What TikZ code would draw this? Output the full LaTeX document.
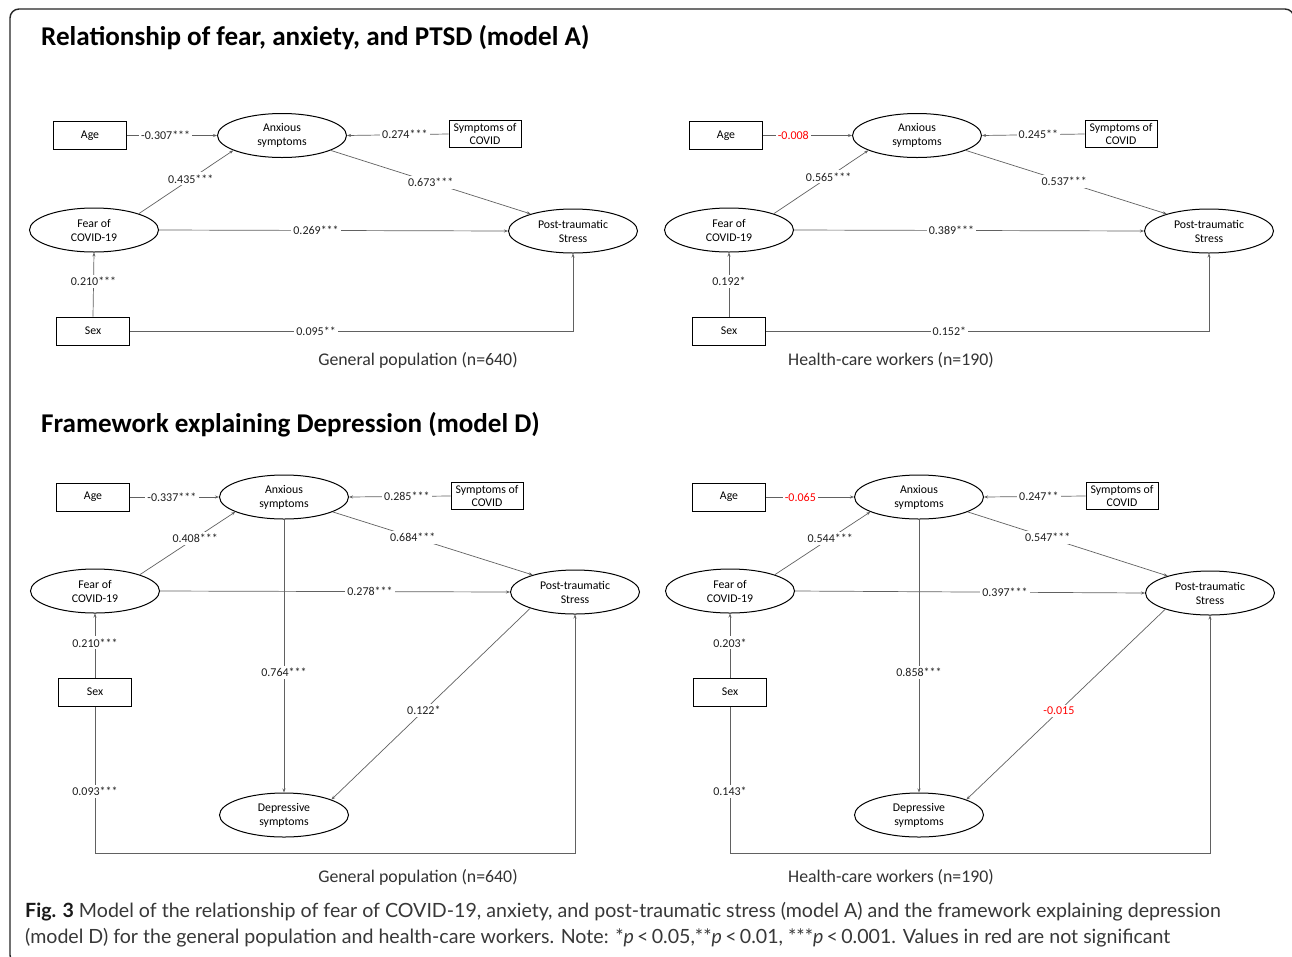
\documentclass[tikz,border=0pt]{standalone}
\usepackage{fontspec}
\setmainfont{Carlito}
\newfontfamily\capfont{Lato}
\usetikzlibrary{shapes.geometric,arrows.meta}
\begin{document}
\begin{tikzpicture}[x=1pt,y=-1pt,
  box/.style={draw=black, line width=1pt, minimum width=73pt, minimum height=28pt, inner sep=0pt, align=center, font=\fontsize{11.8}{13.5}\selectfont},
  sbox/.style={box, minimum width=72pt, minimum height=27pt},
  oval/.style={ellipse, draw=black, line width=1pt, minimum width=129pt, minimum height=44pt, inner sep=0pt, align=center, font=\fontsize{11.8}{14}\selectfont},
  conn/.style={draw=black!62, line width=0.7pt, -{Stealth[length=4pt,width=3pt]}},
  lbl/.style={fill=white, inner sep=2.2pt, font=\fontsize{12}{13}\selectfont, text=black!88},
  ns/.style={text=red},
  title/.style={anchor=base west, inner sep=0pt, font=\fontsize{27.1}{30}\selectfont\bfseries},
  sub/.style={anchor=base, font=\fontsize{17.8}{20}\selectfont, text=black!80},
  capt/.style={anchor=base west, font=\capfont\fontsize{19.6}{26}\selectfont, text=black!78, inner sep=0pt},
]
\useasboundingbox (0,0) rectangle (1292,956);
\fill[white] (0,0) rectangle (1292,956);
\draw[line width=1.4pt, black!85, rounded corners=9pt] (10,9) rectangle (1294,964);

% titles
\node[title] (tA) at (41,45) {Relationship of fear, anxiety, and PTSD (model A)};
\node[title] (tD) at (41,432) {Framework explaining Depression (model D)};

% ===== Model A, general population =====
\node[box] (a1age) at (90,135.5) {Age};
\node[oval] (a1anx) at (282,135.5) {Anxious\\symptoms};
\node[sbox] (a1sym) at (485,134) {Symptoms of\\COVID};
\node[oval] (a1fear) at (94,230) {Fear of\\COVID-19};
\node[oval] (a1pts) at (573,231) {Post-traumatic\\Stress};
\node[box] (a1sex) at (93,331) {Sex};
\draw[conn] (a1age.east) -- node[lbl,pos=0.43] {-0.307***} (a1anx.west);
\draw[conn] (a1sym.west) -- node[lbl,pos=0.43] {0.274***} (a1anx.east);
\draw[conn] (a1fear.20) -- node[lbl,pos=0.55] {0.435***} (a1anx.197);
\draw[conn] (a1anx.343) -- node[lbl,pos=0.5] {0.673***} (a1pts.158);
\draw[conn] (a1fear.east) -- node[lbl,pos=0.45] {0.269***} (a1pts.west);
\draw[conn] (a1sex.north) -- node[lbl,pos=0.55] {0.210***} (a1fear.south);
\draw[conn] (a1sex.east) -| node[lbl,pos=0.21] {0.095**} (a1pts.south);
\node[sub] (a1cap) at (418,365) {General population (n=640)};

% ===== Model A, health-care workers =====
\node[box] (a2age) at (726,135.5) {Age};
\node[oval] (a2anx) at (917,135.5) {Anxious\\symptoms};
\node[sbox] (a2sym) at (1121,134) {Symptoms of\\COVID};
\node[oval] (a2fear) at (729,230) {Fear of\\COVID-19};
\node[oval] (a2pts) at (1209,231) {Post-traumatic\\Stress};
\node[box] (a2sex) at (729,331) {Sex};
\draw[conn] (a2age.east) -- node[lbl,ns,pos=0.34] {-0.008} (a2anx.west);
\draw[conn] (a2sym.west) -- node[lbl,pos=0.45] {0.245**} (a2anx.east);
\draw[conn] (a2fear.20) -- node[lbl,pos=0.58] {0.565***} (a2anx.197);
\draw[conn] (a2anx.343) -- node[lbl,pos=0.49] {0.537***} (a2pts.158);
\draw[conn] (a2fear.east) -- node[lbl,pos=0.45] {0.389***} (a2pts.west);
\draw[conn] (a2sex.north) -- node[lbl,pos=0.55] {0.192*} (a2fear.south);
\draw[conn] (a2sex.east) -| node[lbl,pos=0.207] {0.152*} (a2pts.south);
\node[sub] (a2cap) at (891,365) {Health-care workers (n=190)};

% ===== Model D, general population =====
\coordinate (dbot) at (0,853);
\node[box] (d1age) at (93,497) {Age};
\node[oval] (d1anx) at (284,497) {Anxious\\symptoms};
\node[sbox] (d1sym) at (487,496) {Symptoms of\\COVID};
\node[oval] (d1fear) at (95,591) {Fear of\\COVID-19};
\node[oval] (d1pts) at (575,592) {Post-traumatic\\Stress};
\node[box] (d1sex) at (95,692) {Sex};
\node[oval] (d1dep) at (284,815) {Depressive\\symptoms};
\draw[conn] (d1age.east) -- node[lbl,pos=0.47] {-0.337***} (d1anx.west);
\draw[conn] (d1sym.west) -- node[lbl,pos=0.43] {0.285***} (d1anx.east);
\draw[conn] (d1fear.20) -- node[lbl,pos=0.58] {0.408***} (d1anx.197);
\draw[conn] (d1anx.343) -- node[lbl,pos=0.40] {0.684***} (d1pts.158);
\draw[conn] (d1fear.east) -- node[lbl,pos=0.60] {0.278***} (d1pts.west);
\draw[conn] (d1sex.north) -- node[lbl,pos=0.54] {0.210***} (d1fear.south);
\draw[conn] (d1anx.south) -- node[lbl,pos=0.56] {0.764***} (d1dep.north);
\draw[conn] (d1pts.200) -- node[lbl,pos=0.535] {0.122*} (d1dep.18);
\draw[conn] (d1sex.south) -- node[lbl,pos=0.58] {0.093***} (d1sex.south |- dbot) -| (d1pts.south);
\node[sub] (d1cap) at (418,882) {General population (n=640)};

% ===== Model D, health-care workers =====
\node[box] (d2age) at (729,497) {Age};
\node[oval] (d2anx) at (919,497) {Anxious\\symptoms};
\node[sbox] (d2sym) at (1122,496) {Symptoms of\\COVID};
\node[oval] (d2fear) at (730,591) {Fear of\\COVID-19};
\node[oval] (d2pts) at (1210,593) {Post-traumatic\\Stress};
\node[box] (d2sex) at (730,692) {Sex};
\node[oval] (d2dep) at (919,815) {Depressive\\symptoms};
\draw[conn] (d2age.east) -- node[lbl,ns,pos=0.39] {-0.065} (d2anx.west);
\draw[conn] (d2sym.west) -- node[lbl,pos=0.46] {0.247**} (d2anx.east);
\draw[conn] (d2fear.20) -- node[lbl,pos=0.58] {0.544***} (d2anx.197);
\draw[conn] (d2anx.343) -- node[lbl,pos=0.40] {0.547***} (d2pts.158);
\draw[conn] (d2fear.east) -- node[lbl,pos=0.60] {0.397***} (d2pts.west);
\draw[conn] (d2sex.north) -- node[lbl,pos=0.54] {0.203*} (d2fear.south);
\draw[conn] (d2anx.south) -- node[lbl,pos=0.56] {0.858***} (d2dep.north);
\draw[conn] (d2pts.200) -- node[lbl,ns,pos=0.535] {-0.015} (d2dep.18);
\draw[conn] (d2sex.south) -- node[lbl,pos=0.58] {0.143*} (d2sex.south |- dbot) -| (d2pts.south);
\node[sub] (d2cap) at (891,882) {Health-care workers (n=190)};

% caption
\node[capt] (cap1) at (25,917)
  {\textbf{\color{black!90}Fig. 3} Model of the relationship of fear of COVID-19, anxiety, and post-traumatic stress (model A) and the framework explaining depression};
\node[capt] (cap2) at (25,943)
  {(model D) for the general population and health-care workers. Note: *\textit{p}\,<\,0.05,**\textit{p}\,<\,0.01, ***\textit{p}\,<\,0.001. Values in red are not significant};
\end{tikzpicture}
\end{document}
